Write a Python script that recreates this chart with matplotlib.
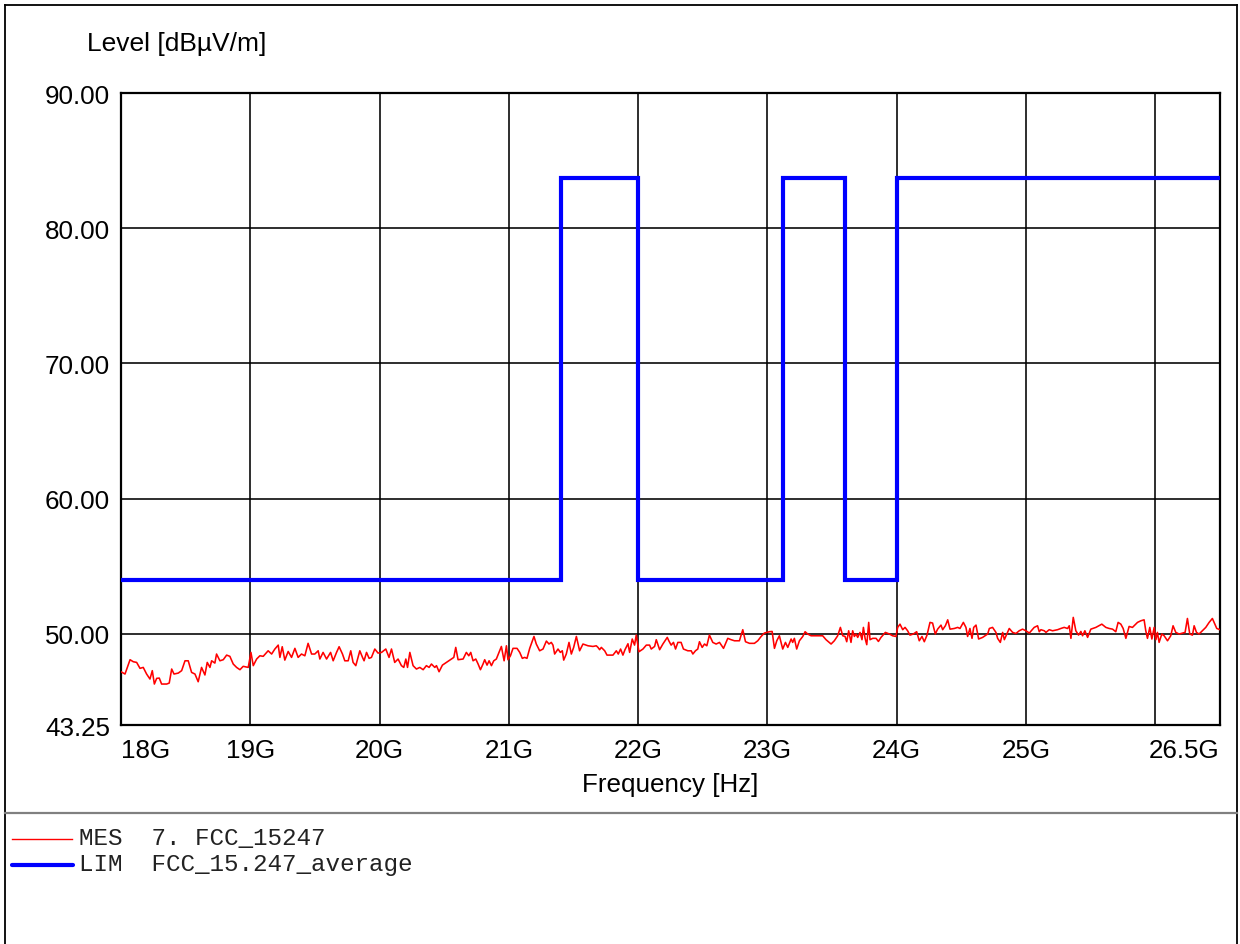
import matplotlib
matplotlib.use("Agg")
import matplotlib.pyplot as plt
from matplotlib.lines import Line2D

# ---------------- data ----------------
mes_freq_ghz = [
    18.000, 18.031, 18.070, 18.095, 18.121, 18.147, 18.172, 18.198, 18.224, 18.242,
    18.258, 18.276, 18.296, 18.314, 18.353, 18.373, 18.392, 18.410, 18.443, 18.469,
    18.495, 18.520, 18.546, 18.572, 18.597, 18.623, 18.649, 18.667, 18.688, 18.701,
    18.726, 18.739, 18.765, 18.791, 18.817, 18.842, 18.868, 18.894, 18.920, 18.945,
    18.984, 19.005, 19.023, 19.049, 19.074, 19.100, 19.138, 19.165, 19.190, 19.216,
    19.229, 19.247, 19.267, 19.293, 19.319, 19.345, 19.370, 19.396, 19.422, 19.447,
    19.474, 19.499, 19.525, 19.538, 19.563, 19.590, 19.621, 19.641, 19.667, 19.687,
    19.713, 19.731, 19.757, 19.777, 19.795, 19.816, 19.847, 19.868, 19.880, 19.899,
    19.919, 19.937, 19.963, 19.988, 20.015, 20.048, 20.073, 20.092, 20.117,
    20.143, 20.169, 20.187, 20.203, 20.216, 20.234, 20.259, 20.285, 20.311, 20.337,
    20.362, 20.383, 20.401, 20.427, 20.440, 20.460, 20.486, 20.517, 20.556, 20.574,
    20.589, 20.607, 20.646, 20.671, 20.690, 20.705, 20.723, 20.744, 20.762, 20.780,
    20.800, 20.813, 20.831, 20.847, 20.865, 20.883, 20.903, 20.924, 20.942, 20.963,
    20.981, 20.993, 21.012, 21.032, 21.063, 21.084, 21.104, 21.122, 21.140, 21.161,
    21.194, 21.212, 21.238, 21.264, 21.290, 21.310, 21.328, 21.341, 21.354, 21.380,
    21.398, 21.413, 21.424, 21.444, 21.465, 21.483, 21.501, 21.522, 21.547, 21.573,
    21.612, 21.650, 21.676, 21.689, 21.702, 21.715, 21.741, 21.759, 21.779, 21.805,
    21.831, 21.846, 21.864, 21.882, 21.898, 21.921, 21.934, 21.954, 21.972, 21.985,
    22.006, 22.037, 22.063, 22.088, 22.101, 22.127, 22.140, 22.166, 22.191, 22.225,
    22.237, 22.255, 22.273, 22.289, 22.307, 22.332, 22.350, 22.384, 22.410, 22.423,
    22.443, 22.461, 22.474, 22.495, 22.513, 22.531, 22.551, 22.577, 22.603, 22.629,
    22.660, 22.693, 22.719, 22.745, 22.783, 22.809, 22.830, 22.861, 22.899, 22.925,
    22.951, 22.976, 22.994, 23.015, 23.036, 23.054, 23.072, 23.092, 23.118, 23.139,
    23.157, 23.183, 23.195, 23.208, 23.226, 23.247, 23.273, 23.291, 23.311, 23.337,
    23.376, 23.427, 23.453, 23.492, 23.517, 23.543, 23.564, 23.582, 23.600, 23.613,
    23.628, 23.646, 23.659, 23.672, 23.685, 23.698, 23.716, 23.731, 23.742, 23.755,
    23.768, 23.783, 23.793, 23.814, 23.840, 23.858, 23.878, 23.912, 23.943, 23.968,
    23.994, 24.007, 24.025, 24.046, 24.064, 24.084, 24.102, 24.128, 24.154, 24.174,
    24.195, 24.213, 24.234, 24.257, 24.277, 24.298, 24.316,
    24.342, 24.355, 24.376, 24.394, 24.412, 24.445, 24.471, 24.489, 24.515, 24.535,
    24.548, 24.566, 24.582, 24.595, 24.613, 24.633, 24.664, 24.703, 24.716, 24.741,
    24.767, 24.780, 24.801, 24.819, 24.832, 24.870, 24.896, 24.922, 24.947, 24.973,
    24.999, 25.025, 25.063, 25.089, 25.102, 25.115, 25.141, 25.154, 25.179, 25.205,
    25.244, 25.269, 25.295, 25.321, 25.334, 25.347, 25.365, 25.385, 25.406, 25.424,
    25.437, 25.455, 25.476, 25.501, 25.540, 25.586, 25.617, 25.643, 25.669, 25.694,
    25.712, 25.733, 25.751, 25.772, 25.797, 25.823, 25.862, 25.888, 25.913, 25.926,
    25.939, 25.957, 25.973, 25.991, 26.004, 26.016, 26.029, 26.050, 26.068, 26.094,
    26.119, 26.137, 26.158, 26.184, 26.230, 26.248, 26.266, 26.287, 26.300, 26.318,
    26.338, 26.364, 26.390, 26.416, 26.441, 26.475, 26.500,
]
mes_level = [
    47.19, 47.02, 48.08, 47.93, 47.88, 47.44, 47.51, 47.02, 46.65, 47.27,
    46.28, 46.70, 46.72, 46.28, 46.28, 46.35, 47.39, 47.02, 47.09, 47.27,
    48.00, 48.00, 47.14, 47.02, 46.45, 47.51, 46.95, 47.88, 47.51, 48.00,
    47.83, 48.50, 48.00, 48.08, 48.42, 48.33, 47.76, 47.51, 47.34, 47.59,
    47.51, 48.62, 47.64, 48.13, 48.37, 48.33, 48.74, 48.50, 48.87, 49.16,
    48.25, 49.04, 48.05, 48.69, 48.25, 48.92, 48.25, 48.50, 48.37, 49.29,
    48.50, 48.50, 48.74, 48.13, 48.62, 48.13, 48.62, 48.00, 48.62, 49.04,
    48.50, 48.00, 48.00, 48.74, 47.88, 47.64, 48.74, 48.25, 48.00, 48.62,
    48.18, 48.25, 48.87, 48.57, 48.62, 48.87, 48.25, 48.87, 47.88,
    48.13, 47.64, 47.51, 48.13, 47.51, 48.62, 47.64, 47.39, 47.51, 47.34,
    47.64, 47.51, 47.76, 47.51, 47.64, 47.19, 47.68, 47.88, 48.13, 48.25,
    48.99, 48.08, 48.13, 48.62, 48.37, 48.62, 48.00, 48.13, 47.76, 47.34,
    47.76, 48.08, 47.68, 48.00, 47.64, 48.00, 48.13, 48.62, 49.06, 48.00,
    49.11, 48.08, 48.37, 48.92, 48.92, 48.62, 48.18, 48.25, 48.18, 48.92,
    49.80, 49.24, 48.74, 48.87, 49.46, 49.24, 49.36, 49.16, 48.50, 48.87,
    48.62, 48.74, 48.05, 48.50, 49.36, 48.50, 48.99, 49.80, 48.74, 49.24,
    49.11, 49.06, 49.11, 48.99, 48.82, 48.99, 48.74, 48.42, 48.42, 48.42,
    48.74, 48.50, 48.87, 48.42, 48.82, 49.26, 48.62, 49.61, 49.16, 49.90,
    48.67, 48.87, 49.16, 49.16, 48.87, 49.06, 49.56, 48.82, 49.24, 49.73,
    49.48, 49.16, 49.36, 48.87, 49.36, 49.36, 48.87, 48.74, 48.74, 48.50,
    48.74, 48.87, 49.41, 48.99, 49.24, 49.11, 49.90, 49.36, 49.24, 49.36,
    48.92, 49.66, 49.56, 49.48, 49.48, 50.30, 49.41, 49.29, 49.29, 49.48,
    49.80, 50.05, 50.10, 50.15, 50.17, 48.92, 49.48, 49.85, 48.87, 49.36,
    48.99, 49.61, 49.36, 49.66, 48.87, 49.48, 49.80, 50.15, 49.98, 49.85,
    49.85, 49.85, 49.56, 49.24, 49.48, 49.85, 50.47, 49.85, 49.80, 49.41,
    50.22, 49.36, 50.22, 49.80, 49.98, 49.73, 50.10, 49.56, 50.47, 49.66,
    49.19, 50.84, 49.56, 49.66, 49.66, 49.43, 49.73, 50.10, 49.98, 49.85,
    49.80, 50.47, 50.71, 50.30, 50.47, 50.22, 49.90, 49.98, 50.15, 49.48,
    49.80, 49.41, 49.90, 50.84, 50.79, 49.98, 50.34,
    50.64, 50.30, 50.59, 51.03, 50.34, 50.39, 50.47, 50.39, 50.84, 50.47,
    49.80, 50.39, 49.66, 50.47, 50.64, 49.61, 49.73, 49.98, 50.39, 50.47,
    50.10, 49.66, 49.36, 50.10, 49.56, 50.39, 50.10, 50.02, 50.22, 50.34,
    50.22, 50.05, 50.47, 50.59, 50.15, 50.30, 50.22, 50.10, 50.30, 50.22,
    50.30, 50.39, 50.47, 50.39, 50.59, 49.66, 51.21, 50.22, 49.90, 50.17,
    49.85, 50.22, 49.73, 50.34, 50.47, 50.71, 50.47, 50.39, 50.34, 50.15,
    50.84, 50.71, 50.39, 49.66, 50.54, 50.47, 50.84, 50.96, 51.03, 50.22,
    49.66, 50.47, 49.61, 50.47, 49.56, 50.10, 49.36, 49.98, 49.85, 49.48,
    49.85, 50.59, 50.10, 49.98, 50.10, 51.13, 49.98, 49.90, 50.59, 50.10,
    49.98, 50.22, 50.47, 50.84, 51.13, 50.39, 50.30,
]

lim_freq_ghz = [18.0, 21.4, 21.4, 22.0, 22.0, 23.12, 23.12, 23.6, 23.6, 24.0, 24.0, 26.5]
lim_level = [54.0, 54.0, 83.7, 83.7, 54.0, 54.0, 83.7, 83.7, 54.0, 54.0, 83.7, 83.7]

x_ticks = [18, 19, 20, 21, 22, 23, 24, 25, 26, 26.5]
x_tick_labels = ["18G", "19G", "20G", "21G", "22G", "23G", "24G", "25G", "", "26.5G"]
y_ticks = [43.25, 50, 60, 70, 80, 90]

legend_names = ["MES  7. FCC_15247", "LIM  FCC_15.247_average"]

# ---------------- figure ----------------
W, H = 1240, 945
fig = plt.figure(figsize=(W / 100, H / 100), dpi=100)
plt.rcParams['font.family'] = ['Liberation Sans', 'DejaVu Sans']

def fx(px):
    return px / W

def fy(py):
    return 1 - py / H

ax = fig.add_axes([fx(121), fy(726), fx(1220) - fx(121), fy(94) - fy(726)])
ax.set_xlim(18.0, 26.5)
ax.set_ylim(43.25, 90.0)

ax.plot(mes_freq_ghz, mes_level, color="#ff0000", lw=1.15, zorder=3)
ax.plot(lim_freq_ghz, lim_level, color="#0000ff", lw=3.0, zorder=4,
        solid_joinstyle="miter")

ax.set_xticks(x_ticks)
ax.set_xticklabels(x_tick_labels)
ax.set_yticks(y_ticks)
ax.set_yticklabels([f"{v:.2f}" for v in y_ticks])
ax.tick_params(axis="both", length=0, labelsize=18.7, colors="black")
ax.tick_params(axis="x", pad=9)
ax.tick_params(axis="y", pad=8)
ax.grid(True, color="black", lw=1.15, zorder=1)
for s in ax.spines.values():
    s.set_linewidth(1.6)
    s.set_color("black")

labels = ax.get_xticklabels()
labels[0].set_ha("left")
labels[-1].set_ha("right")

fig.text(fx(87), fy(44), "Level [dBµV/m]", fontsize=19, ha="left", va="center")
fig.text(fx(670), fy(785), "Frequency [Hz]", fontsize=18.7, ha="center", va="center")

# outer frame and separator
frame_kw = dict(transform=fig.transFigure, color="black", lw=1.3)
fig.add_artist(Line2D([fx(5), fx(5)], [fy(6), 0], **frame_kw))
fig.add_artist(Line2D([fx(5), fx(1237)], [fy(6), fy(6)], **frame_kw))
fig.add_artist(Line2D([fx(1237), fx(1237)], [fy(6), 0], **frame_kw))
fig.add_artist(Line2D([fx(5), fx(1237)], [fy(814), fy(814)],
                      transform=fig.transFigure, color="#808080", lw=1.6))

# legend
fig.add_artist(Line2D([fx(12), fx(72)], [fy(840), fy(840)],
                      transform=fig.transFigure, color="#ff0000", lw=1.0))
fig.add_artist(Line2D([fx(12), fx(73)], [fy(866), fy(866)],
                      transform=fig.transFigure, color="#0000ff", lw=3.0,
                      solid_capstyle="round"))
mono = ['Liberation Mono', 'DejaVu Sans Mono']
fig.text(fx(79), fy(839), legend_names[0], fontsize=17.5, family=mono,
         ha="left", va="center", color="#222222")
fig.text(fx(79), fy(865), legend_names[1], fontsize=17.5, family=mono,
         ha="left", va="center", color="#222222")

fig.savefig("out.png", dpi=100)
